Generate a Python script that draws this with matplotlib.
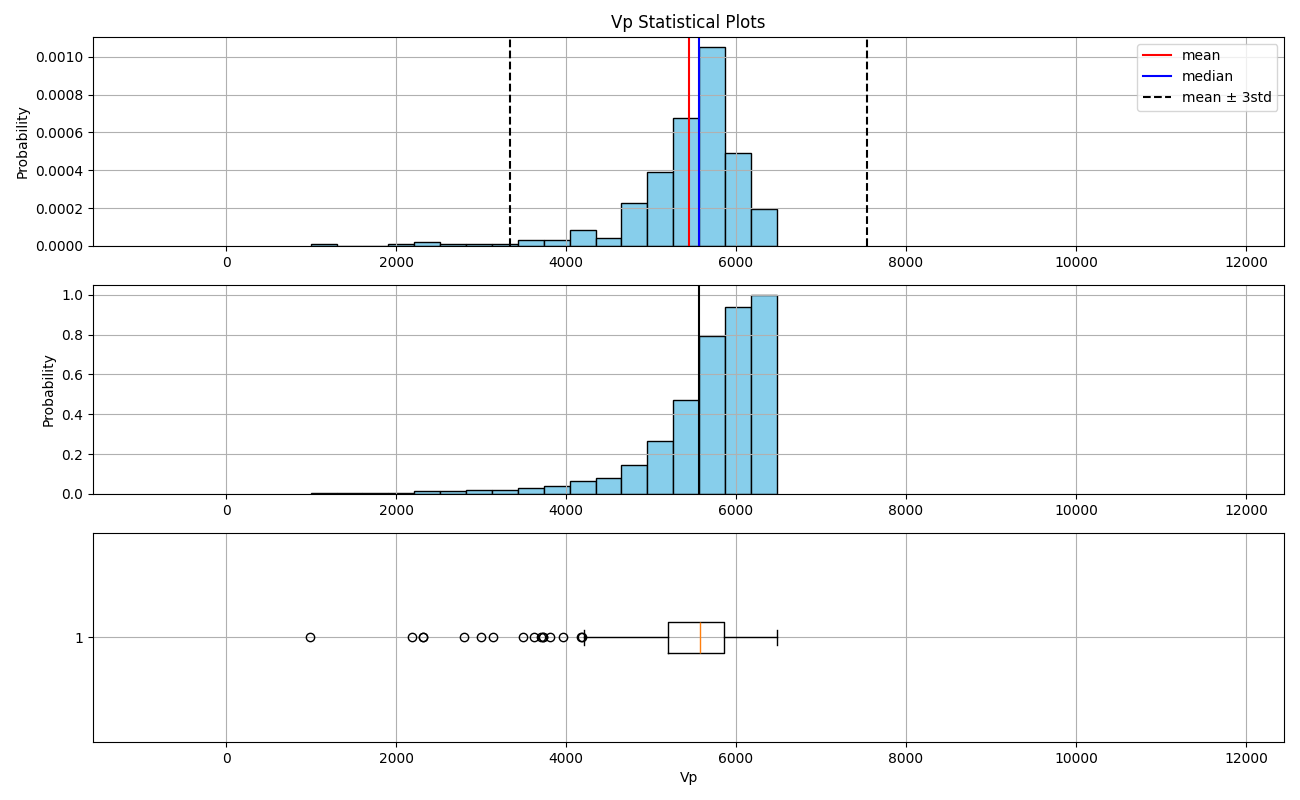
import numpy as np
import matplotlib
matplotlib.use('Agg')
import matplotlib.pyplot as plt

# Histogram range and bin counts (18 equal bins)
VP_MIN = 995.0
VP_MAX = 6480.0
counts = [1, 0, 0, 1, 2, 1, 1, 1, 3, 3, 8, 4, 22, 38, 66, 103, 48, 19]

# Summary statistics
vp_mean = 5443.0
vp_median = 5568.0
vp_std = 701.0

# Boxplot stats
box_q1 = 5200.0
box_q3 = 5857.0
box_med = 5575.0
whisker_lo = 4208.0
whisker_hi = 6480.0
fliers = [991, 2182, 2319, 2322, 2801, 3001, 3142, 3499, 3620, 3710, 3730,
          3734, 3816, 3965, 4180, 4190]

edges = np.linspace(VP_MIN, VP_MAX, len(counts) + 1)
centers = (edges[:-1] + edges[1:]) / 2
xlim = (vp_mean - 10 * vp_std, vp_mean + 10 * vp_std)

fig, (ax1, ax2, ax3) = plt.subplots(3, 1, figsize=(13, 8), dpi=100)
fig.subplots_adjust(left=0.0715, right=0.988, top=0.954, bottom=0.0725, hspace=0.187)

# Probability density
ax1.hist(centers, bins=edges, weights=counts, density=True,
         color='skyblue', edgecolor='black')
ax1.axvline(vp_mean, color='red', label='mean')
ax1.axvline(vp_median, color='blue', label='median')
ax1.axvline(vp_mean - 3 * vp_std, color='black', linestyle='--', label='mean ± 3std')
ax1.axvline(vp_mean + 3 * vp_std, color='black', linestyle='--')
ax1.set_xlim(xlim)
ax1.set_ylabel('Probability')
ax1.set_title('Vp Statistical Plots')
ax1.legend(loc='upper right')
ax1.grid(True)

# Cumulative
ax2.hist(centers, bins=edges, weights=counts, density=True, cumulative=True,
         color='skyblue', edgecolor='black')
ax2.axvline(vp_median, color='black')
ax2.set_xlim(xlim)
ax2.set_ylabel('Probability')
ax2.grid(True)

# Boxplot
stats = [dict(med=box_med, q1=box_q1, q3=box_q3, whislo=whisker_lo,
              whishi=whisker_hi, fliers=fliers, label='1')]
ax3.bxp(stats, vert=False, widths=0.15)
ax3.set_ylim(0.5, 1.5)
ax3.set_xlim(xlim)
ax3.set_xlabel('Vp')
ax3.grid(True)

plt.savefig('out.png', dpi=100)
